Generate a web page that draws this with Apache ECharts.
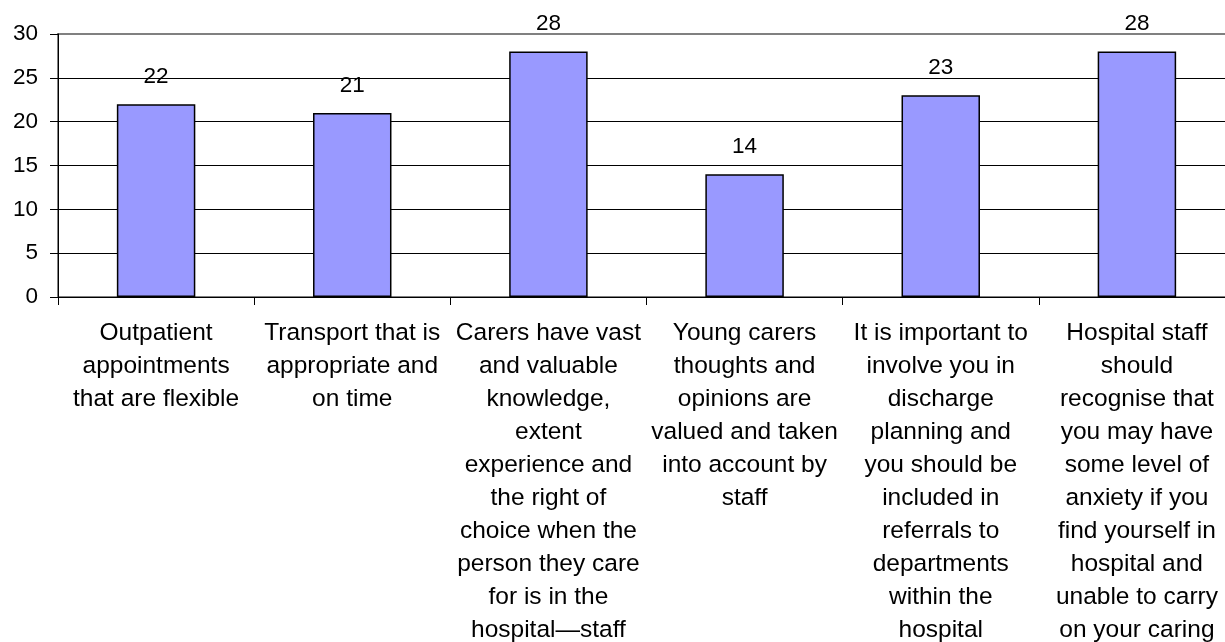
<!DOCTYPE html>
<html>
<head>
<meta charset="utf-8">
<script src="https://cdn.jsdelivr.net/npm/echarts@6/dist/echarts.min.js"></script>
<style>
html,body{margin:0;padding:0;background:#fff;}
#chart{width:1225px;height:642px;}
</style>
</head>
<body>
<div id="chart"></div>
<script>
const categories = [
  "Outpatient\nappointments\nthat are flexible",
  "Transport that is\nappropriate and\non time",
  "Carers have vast\nand valuable\nknowledge,\nextent\nexperience and\nthe right of\nchoice when the\nperson they care\nfor is in the\nhospital\u2014staff",
  "Young carers\nthoughts and\nopinions are\nvalued and taken\ninto account by\nstaff",
  "It is important to\ninvolve you in\ndischarge\nplanning and\nyou should be\nincluded in\nreferrals to\ndepartments\nwithin the\nhospital",
  "Hospital staff\nshould\nrecognise that\nyou may have\nsome level of\nanxiety if you\nfind yourself in\nhospital and\nunable to carry\non your caring"
];
const values = [22, 21, 28, 14, 23, 28];
const yTicks = { min: 0, max: 30, interval: 5 };

const chart = echarts.init(document.getElementById('chart'), null, { renderer: 'canvas' });
const font = '"Liberation Sans", Arial, sans-serif';
chart.setOption({
  animation: false,
  backgroundColor: '#fff',
  grid: { left: 58, top: 34, height: 263, width: 1177, outerBoundsMode: 'none', containLabel: false, show: true, borderColor: '#808080', borderWidth: 2, backgroundColor: 'transparent' },
  xAxis: {
    type: 'category',
    data: categories,
    axisLine: { lineStyle: { color: '#000', width: 1 } },
    axisTick: { show: true, alignWithLabel: false, length: 8, lineStyle: { color: '#000' } },
    axisLabel: { interval: 0, color: '#000', fontFamily: font, fontSize: 24.5, lineHeight: 33, margin: 20, align: 'center', hideOverlap: false },
    splitLine: { show: false }
  },
  yAxis: {
    type: 'value',
    min: yTicks.min, max: yTicks.max, interval: yTicks.interval,
    axisLine: { show: true, lineStyle: { color: '#000', width: 1 } },
    axisTick: { show: true, length: 8, lineStyle: { color: '#000' } },
    axisLabel: { color: '#000', fontFamily: font, fontSize: 22.5, margin: 20 },
    splitLine: { show: true, lineStyle: { color: ['#000','#000','#000','#000','#000','#000','#808080'], width: 1 } }
  },
  series: [{
    type: 'bar',
    data: values,
    barWidth: '40%',
    itemStyle: { color: '#9999FF', borderColor: '#000', borderWidth: 1.5 },
    label: { show: true, position: 'top', distance: 16, color: '#000', fontFamily: font, fontSize: 22.5 }
  }]
});
</script>
</body>
</html>
